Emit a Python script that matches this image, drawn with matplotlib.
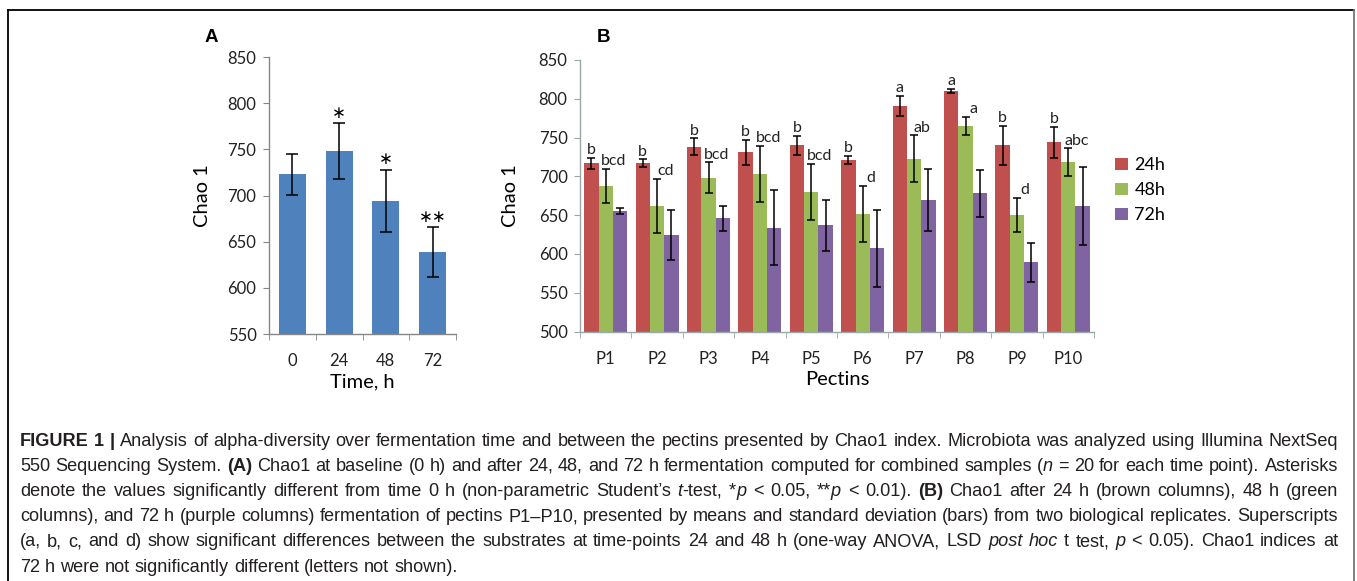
import numpy as np
import matplotlib
matplotlib.use("Agg")
import matplotlib.pyplot as plt
from matplotlib import font_manager as fm
from matplotlib.lines import Line2D

# panel A data
times = ["0", "24", "48", "72"]
chao_time = [723, 748, 694, 639]
chao_time_sd = [22, 30, 34, 27]
time_marks = ["", "*", "*", "**"]

# panel B data
pectins = ["P1", "P2", "P3", "P4", "P5", "P6", "P7", "P8", "P9", "P10"]
chao_24 = [717, 717, 738, 731, 740, 721, 791, 810, 740, 744]
sd_24 = [7, 5, 11, 16, 12, 5, 13, 3, 25, 20]
chao_48 = [688, 662, 698, 703, 680, 652, 723, 765, 650, 718]
sd_48 = [22, 35, 20, 36, 36, 36, 30, 12, 22, 18]
chao_72 = [655, 624, 646, 634, 637, 607, 669, 678, 589, 662]
sd_72 = [4, 32, 16, 48, 33, 49, 40, 30, 25, 50]
letters_24 = ["b", "b", "b", "b", "b", "b", "a", "a", "b", "b"]
letters_48 = ["bcd", "cd", "bcd", "bcd", "bcd", "d", "ab", "a", "d", "abc"]
series_names = ["24h", "48h", "72h"]

W, H = 1357, 581
names = {f.name for f in fm.fontManager.ttflist}
cap_font = "Liberation Sans Narrow" if "Liberation Sans Narrow" in names else "Liberation Sans"
axis_font = "Lato"
grey = "#868686"

fig = plt.figure(figsize=(W / 100, H / 100), dpi=100)


def fx(x):
    return x / W


def fy(y):
    return 1 - y / H


def excel_axes(ax, n, tick_col):
    for s in ["top", "right"]:
        ax.spines[s].set_visible(False)
    for s in ["left", "bottom"]:
        ax.spines[s].set_color(tick_col)
        ax.spines[s].set_linewidth(1.0)
    ax.set_xlim(-0.5, n - 0.5)
    ax.set_xticks(np.arange(n))
    ax.set_xticks(np.arange(n + 1) - 0.5, minor=True)
    ax.tick_params(axis="x", which="major", length=0, pad=14, labelsize=12)
    ax.tick_params(axis="x", which="minor", length=4, color=tick_col, direction="out")
    ax.tick_params(axis="y", length=4, color=tick_col, labelsize=12, pad=5)
    for lab in ax.get_xticklabels() + ax.get_yticklabels():
        lab.set_fontfamily(axis_font)
        lab.set_color("#222222")


# ---- panel A
axA = fig.add_axes([fx(269), fy(334), fx(456) - fx(269), fy(57) - fy(334)])
xa = np.arange(len(times))
axA.bar(xa, chao_time, width=0.58, color="#4F81BD")
axA.errorbar(xa, chao_time, yerr=chao_time_sd, fmt="none", ecolor="black",
             elinewidth=1.1, capsize=4, capthick=1.1)
axA.set_ylim(550, 850)
axA.set_yticks(np.arange(550, 851, 50))
axA.set_xticks(xa)
axA.set_xticklabels(times)
excel_axes(axA, len(times), grey)
axA.set_ylabel("Chao 1", fontsize=14.5, fontfamily=axis_font, labelpad=12)
axA.set_xlabel("Time, h", fontsize=14.5, fontfamily=axis_font, labelpad=3)
for i, m in enumerate(time_marks):
    if m:
        axA.annotate(m.replace("*", "\u2217"), (xa[i], chao_time[i] + chao_time_sd[i]),
                     xytext=(0, 1), textcoords="offset points", ha="center", va="bottom",
                     fontsize=12, fontfamily="DejaVu Sans")
fig.text(fx(205), fy(38), "A", fontsize=13.5, fontweight="bold", fontfamily="Liberation Sans",
         ha="left", va="center")

# ---- panel B
axB = fig.add_axes([fx(580), fy(331.5), fx(1094) - fx(580), fy(60) - fy(331.5)])
xb = np.arange(len(pectins))
bw = 0.28
cols = ["#C0504D", "#9BBB59", "#8064A2"]
vals = [chao_24, chao_48, chao_72]
sds = [sd_24, sd_48, sd_72]
for k in range(3):
    pos = xb + (k - 1) * bw
    axB.bar(pos, vals[k], width=bw, color=cols[k], label=series_names[k])
    axB.errorbar(pos, vals[k], yerr=sds[k], fmt="none", ecolor="black",
                 elinewidth=1.1, capsize=3.2, capthick=1.1)
for k, labs, dx in [(0, letters_24, 0), (1, letters_48, 6)]:
    for i, t in enumerate(labs):
        axB.annotate(t, (xb[i] + (k - 1) * bw, vals[k][i] + sds[k][i]),
                     xytext=(dx, 0.5), textcoords="offset points", ha="center", va="bottom",
                     fontsize=11.5, fontfamily=axis_font, color="#222222")
axB.set_ylim(500, 850)
axB.set_yticks(np.arange(500, 851, 50))
axB.set_xticks(xb)
axB.set_xticklabels(pectins)
excel_axes(axB, len(pectins), "#9aa8a8")
axB.set_ylabel("Chao 1", fontsize=14.5, fontfamily=axis_font, labelpad=14)
axB.set_xlabel("Pectins", fontsize=14.5, fontfamily=axis_font, labelpad=3)
leg = axB.legend(loc="center left", bbox_to_anchor=(1.01, 0.52), frameon=False,
                 handlelength=0.7, handleheight=0.7, handletextpad=0.35, labelspacing=0.5,
                 prop={"family": axis_font, "size": 13})
fig.text(fx(597), fy(38), "B", fontsize=13.5, fontweight="bold", fontfamily="Liberation Sans",
         ha="left", va="center")

# ---- frame
fig.add_artist(Line2D([fx(8), fx(1354)], [fy(10), fy(10)], color="black", lw=1.3))
fig.add_artist(Line2D([fx(8), fx(8)], [fy(10), 0], color="black", lw=1.3))
fig.add_artist(Line2D([fx(1354), fx(1354)], [fy(10), 0], color="#777777", lw=1.3))

# ---- caption
N, B_, I_ = "n", "b", "i"
caption = [
    [("FIGURE 1 |", B_), (" Analysis of alpha-diversity over fermentation time and between the pectins "
                          "presented by Chao1 index. Microbiota was analyzed using Illumina NextSeq", N)],
    [("550 Sequencing System. ", N), ("(A)", B_),
     (" Chao1 at baseline (0 h) and after 24, 48, and 72 h fermentation computed for combined samples (", N),
     ("n", I_), (" = 20 for each time point). Asterisks", N)],
    [("denote the values significantly different from time 0 h (non-parametric Student\u2019s ", N),
     ("t", I_), ("-test, *", N), ("p", I_), (" < 0.05, **", N), ("p", I_), (" < 0.01). ", N),
     ("(B)", B_), (" Chao1 after 24 h (brown columns), 48 h (green", N)],
    [("columns), and 72 h (purple columns) fermentation of pectins P1\u2013P10, presented by means and "
      "standard deviation (bars) from two biological replicates. Superscripts", N)],
    [("(a, b, c, and d) show significant differences between the substrates at time-points 24 and 48 h "
      "(one-way ANOVA, LSD ", N), ("post hoc", I_), (" t test, ", N), ("p", I_),
     (" < 0.05). Chao1 indices at", N)],
    [("72 h were not significantly different (letters not shown).", N)],
]

renderer = fig.canvas.get_renderer()


def words_of(line):
    words, cur = [], []
    for text, st in line:
        parts = text.split(" ")
        for j, p in enumerate(parts):
            if j > 0 and cur:
                words.append(cur)
                cur = []
            if p:
                cur.append((p, st))
    if cur:
        words.append(cur)
    return words


def piece_width(text, st, size):
    t = fig.text(0, 0, text, fontsize=size, fontfamily=cap_font,
                 fontweight="bold" if st == B_ else "normal",
                 fontstyle="italic" if st == I_ else "normal")
    w = t.get_window_extent(renderer).width
    t.remove()
    return w


x0, x1 = 20, 1338
size0 = 10.0
w1 = sum(piece_width(p, s, size0) for wd in words_of(caption[0]) for p, s in wd)
sp1 = piece_width("a a", N, size0) - piece_width("aa", N, size0)
nat = w1 + sp1 * (len(words_of(caption[0])) - 1)
cap_size = size0 * 1318 / nat
space = sp1 * cap_size / size0

ys = [441 + 25.2 * k for k in range(len(caption))]
for li, line in enumerate(caption):
    wds = words_of(line)
    widths = [[piece_width(p, s, cap_size) for p, s in wd] for wd in wds]
    total = sum(sum(w) for w in widths)
    gap = space if li == len(caption) - 1 else (x1 - x0 - total) / (len(wds) - 1)
    x = x0
    for wd, ww in zip(wds, widths):
        for (p, s), w in zip(wd, ww):
            fig.text(fx(x), fy(ys[li]), p, fontsize=cap_size, fontfamily=cap_font,
                     fontweight="bold" if s == B_ else "normal",
                     fontstyle="italic" if s == I_ else "normal",
                     va="center", ha="left", color="#231f20")
            x += w
        x += gap

fig.savefig("out.png", dpi=100)
